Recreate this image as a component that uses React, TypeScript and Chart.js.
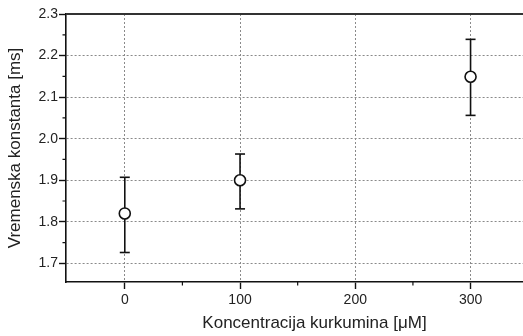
import React, { useEffect, useRef } from "react";
import { Chart, registerables } from "chart.js";

Chart.register(...registerables);

const concentrations = [0, 100, 300];
const tauValues = [1.82, 1.9, 2.149];
const errLow = [1.726, 1.831, 2.056];
const errHigh = [1.907, 1.963, 2.239];

const xMajorTicks = [0, 100, 200, 300];
const xMinorTicks = [50, 150, 250];
const yMajorTicks = [1.7, 1.8, 1.9, 2.0, 2.1, 2.2, 2.3];
const yMinorTicks = [1.75, 1.85, 1.95, 2.05, 2.15, 2.25];

const xTitle = "Koncentracija kurkumina [\u03BCM]";
const yTitle = "Vremenska konstanta [ms]";

const FONT = "'Liberation Sans', Arial, sans-serif";

const decorPlugin = {
  id: "decor",
  afterDraw(chart: any) {
    const { ctx, chartArea, scales } = chart;
    const xs = scales.x;
    const ys = scales.y;
    ctx.save();
    ctx.strokeStyle = "#111";
    ctx.lineWidth = 1.2;
    ctx.setLineDash([]);
    ctx.beginPath();
    xMinorTicks.forEach((v) => {
      const px = xs.getPixelForValue(v);
      ctx.moveTo(px, chartArea.bottom);
      ctx.lineTo(px, chartArea.bottom + 3.5);
    });
    yMinorTicks.forEach((v) => {
      const py = ys.getPixelForValue(v);
      ctx.moveTo(chartArea.left, py);
      ctx.lineTo(chartArea.left - 3.5, py);
    });
    ctx.stroke();
    ctx.strokeStyle = "#333";
    ctx.lineWidth = 2;
    ctx.beginPath();
    ctx.moveTo(chartArea.left, chartArea.top);
    ctx.lineTo(chartArea.right, chartArea.top);
    ctx.stroke();
    // x axis title
    ctx.fillStyle = "#222";
    ctx.font = `17px ${FONT}`;
    ctx.textAlign = "center";
    ctx.textBaseline = "middle";
    ctx.fillText(xTitle, (chartArea.left + chartArea.right) / 2 + 20, chart.height - 13);
    ctx.restore();
  },
};

export default function App() {
  const ref = useRef<HTMLCanvasElement | null>(null);

  useEffect(() => {
    if (!ref.current) return;
    const markerData = concentrations.map((x, i) => ({ x, y: tauValues[i] }));
    const errorSets = concentrations.map((x, i) => ({
      data: [
        { x, y: errLow[i] },
        { x, y: errHigh[i] },
      ],
      showLine: true,
      borderColor: "#111",
      borderWidth: 1.6,
      pointStyle: "line",
      pointRadius: 5,
      pointBorderWidth: 1.6,
      pointBorderColor: "#111",
      pointBackgroundColor: "#111",
    }));

    const chart = new Chart(ref.current, {
      type: "scatter",
      data: {
        datasets: [
          {
            data: markerData,
            pointStyle: "circle",
            pointRadius: 5.5,
            pointBorderWidth: 1.6,
            pointBorderColor: "#111",
            pointBackgroundColor: "#fff",
            showLine: false,
          },
          ...errorSets,
        ] as any,
      },
      options: {
        animation: false,
        responsive: false,
        maintainAspectRatio: false,
        layout: { autoPadding: false, padding: { top: 14, right: 0, left: 0, bottom: 0 } },
        plugins: {
          legend: { display: false },
          tooltip: { enabled: false },
        },
        scales: {
          x: {
            type: "linear",
            min: -51,
            max: 345.5,
            afterBuildTicks: (s: any) => {
              s.ticks = xMajorTicks.map((v) => ({ value: v }));
            },
            afterFit: (s: any) => {
              s.height = 54;
              s.paddingLeft = 0;
              s.paddingRight = 0;
            },
            ticks: {
              color: "#222",
              font: { family: FONT, size: 14 },
              padding: 3,
              maxRotation: 0,
              callback: (v: any) => String(v),
            },
            grid: {
              color: "#8a8a8a",
              lineWidth: 1,
              tickColor: "#111",
              tickLength: 7,
              tickWidth: 1.4,
              tickBorderDash: [],
            },
            border: { display: true, color: "#111", width: 1.6, dash: [2, 2] },
            title: { display: false },
          },
          y: {
            type: "linear",
            min: 1.655,
            max: 2.3,
            afterBuildTicks: (s: any) => {
              s.ticks = yMajorTicks.map((v) => ({ value: v }));
            },
            afterFit: (s: any) => {
              s.width = 66;
              s.paddingTop = 0;
              s.paddingBottom = 0;
            },
            ticks: {
              color: "#222",
              font: { family: FONT, size: 14 },
              padding: 1,
              callback: (v: any) => Number(v).toFixed(1),
            },
            grid: {
              color: (c: any) =>
                c.tick && Math.abs(c.tick.value - 2.3) < 1e-6 ? "rgba(0,0,0,0)" : "#8a8a8a",
              lineWidth: 1,
              tickColor: "#111",
              tickLength: 7,
              tickWidth: 1.4,
              tickBorderDash: [],
            },
            border: { display: true, color: "#111", width: 1.6, dash: [2, 2] },
            title: {
              display: true,
              text: yTitle,
              color: "#222",
              font: { family: FONT, size: 17 },
              padding: { top: 5, bottom: 0 },
            },
          },
        },
      } as any,
      plugins: [decorPlugin],
    });
    return () => chart.destroy();
  }, []);

  return (
    <div style={{ position: "fixed", left: 0, top: 0, width: 523, height: 336, background: "#fff" }}>
      <canvas ref={ref} width={523} height={336} style={{ display: "block" }} />
    </div>
  );
}
